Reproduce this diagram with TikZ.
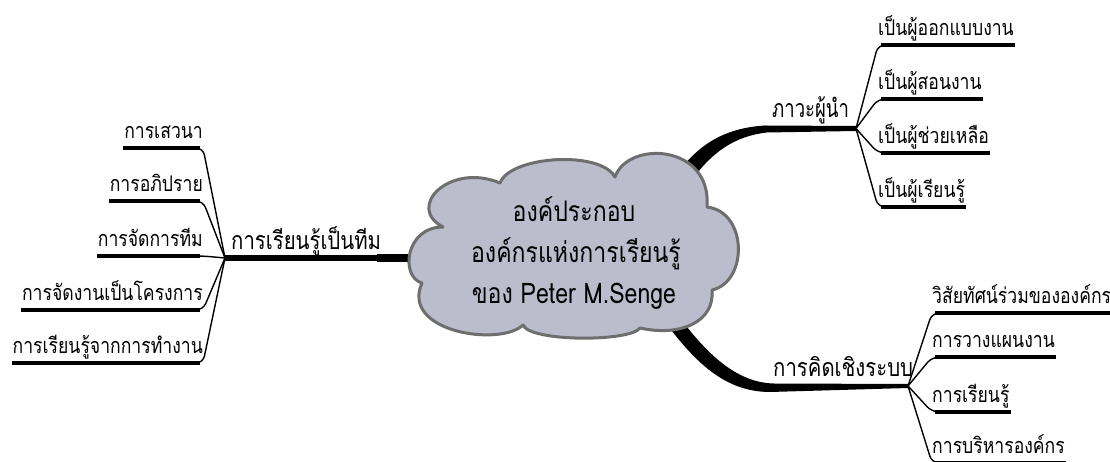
\documentclass[tikz,border=0pt]{standalone}
\usepackage{graphicx}
\usepackage{fontspec}
\newfontfamily\thai[Script=Thai]{Loma}
\usetikzlibrary{calc}
\definecolor{cloudfill}{RGB}{187,188,204}
\definecolor{cloudline}{RGB}{110,110,110}
\newcommand{\stx}[1]{\scalebox{1.1}[1.35]{#1}}
\tikzset{
  lbl/.style={font=\thai\fontsize{16}{18}\selectfont, inner xsep=0pt, inner ysep=9pt, text height=14pt, text depth=0pt},
  mainlbl/.style={font=\thai\fontsize{18.5}{20}\selectfont, inner sep=0pt},
  cloudtxt/.style={font=\thai\fontsize{21}{24}\selectfont, inner sep=0pt},
  ul/.style={line width=3.2pt, line cap=butt},
  conn/.style={line width=1.4pt, rounded corners=7pt},
  branch/.style={fill=black},
}
\begin{document}
\begin{tikzpicture}[x=1pt,y=1pt]
\useasboundingbox (0,0) rectangle (1110,462);
\fill[white] (0,0) rectangle (1110,462);
\clip (0,0) rectangle (1110,462);

% junctions and cloud exits
\coordinate (JL) at (225,204);
\coordinate (JR1) at (856,333.5);
\coordinate (JR2) at (908,76);
\coordinate (CL) at (418,204);

% main branches (behind cloud)
\draw[line width=5.5pt] (JL) -- (CL);
\draw[line width=7.5pt] (377,204) -- (CL);
\fill[branch] (680,292) .. controls (700,318) and (725,334) .. (765,336.5) -- (JR1|-0,336) -- (JR1|-0,331) -- (767,329.5) .. controls (735,326) and (712,310) .. (692,282) -- cycle;
\fill[branch] (675,150) .. controls (700,118) and (730,80) .. (773,78.5) -- (JR2|-0,78) -- (JR2|-0,74) -- (770,70) .. controls (725,70) and (695,100) .. (665,140) -- cycle;

% cloud
\path[draw=cloudline, line width=3pt, fill=cloudfill, line join=round]
  (500,279) .. controls (510,306) and (600,312) .. (615,285)
  .. controls (628,322) and (712,318) .. (707,255)
  .. controls (748,250) and (748,180) .. (712,172)
  .. controls (715,140) and (680,125) .. (640,134)
  .. controls (630,120) and (530,120) .. (523,137)
  .. controls (500,115) and (400,130) .. (422,179)
  .. controls (400,185) and (405,235) .. (443,235)
  .. controls (405,255) and (450,300) .. (500,279) -- cycle;

\node[cloudtxt, anchor=base] (c1) at (574,240) {\stx{องค์ประกอบ}};
\node[cloudtxt, anchor=base] (c2) at (576,199) {\stx{องค์กรแห่งการเรียนรู้}};
\node[cloudtxt, anchor=base] (c3) at (574,158) {\stx{ของ Peter M.Senge}};

% main labels
\node[mainlbl, anchor=base west] (m1) at (231,212) {\stx{การเรียนรู้เป็นทีม}};
\node[mainlbl, anchor=base west] (m2) at (772,344) {\scalebox{1.0}[1.35]{ภาวะผู้นำ}};
\node[mainlbl, anchor=base west] (m3) at (773,85) {\stx{การคิดเชิงระบบ}};

% left leaves
\node[lbl, anchor=south east] (l1) at (203,314) {\stx{การเสวนา}};
\node[lbl, anchor=south east] (l2) at (203,261) {\stx{การอภิปราย}};
\node[lbl, anchor=south east] (l3) at (203,206) {\stx{การจัดการทีม}};
\node[lbl, anchor=south east] (l4) at (203,152) {\stx{การจัดงานเป็นโครงการ}};
\node[lbl, anchor=south east] (l5) at (203,99) {\stx{การเรียนรู้จากการทำงาน}};
\foreach \n in {l1,l2,l3,l4,l5}{
  \draw[conn] (\n.south west) -- (\n.south east) -- (JL);
  \draw[ul] ($(\n.south west)+(-1,0)$) -- ($(\n.south east)+(-3,0)$);
}

% right top leaves
\node[lbl, anchor=south west] (r1) at (878,417) {\stx{เป็นผู้ออกแบบงาน}};
\node[lbl, anchor=south west] (r2) at (878,363) {\stx{เป็นผู้สอนงาน}};
\node[lbl, anchor=south west] (r3) at (878,309) {\stx{เป็นผู้ช่วยเหลือ}};
\node[lbl, anchor=south west] (r4) at (878,255) {\stx{เป็นผู้เรียนรู้}};
\foreach \n in {r1,r2,r3,r4}{
  \draw[conn] (JR1) -- (\n.south west) -- (\n.south east);
  \draw[ul] ($(\n.south west)+(3,0)$) -- ($(\n.south east)+(1,0)$);
}

% right bottom leaves
\node[lbl, anchor=south west] (b1) at (932,149) {\stx{วิสัยทัศน์ร่วมขององค์กร}};
\node[lbl, anchor=south west] (b2) at (932,105) {\stx{การวางแผนงาน}};
\node[lbl, anchor=south west] (b3) at (932,50) {\stx{การเรียนรู้}};
\node[lbl, anchor=south west] (b4) at (932,-1) {\stx{การบริหารองค์กร}};
\foreach \n in {b1,b2,b3,b4}{
  \draw[conn] (JR2) -- (\n.south west) -- (\n.south east);
  \draw[ul] ($(\n.south west)+(3,0)$) -- ($(\n.south east)+(1,0)$);
}
\end{tikzpicture}
\end{document}
